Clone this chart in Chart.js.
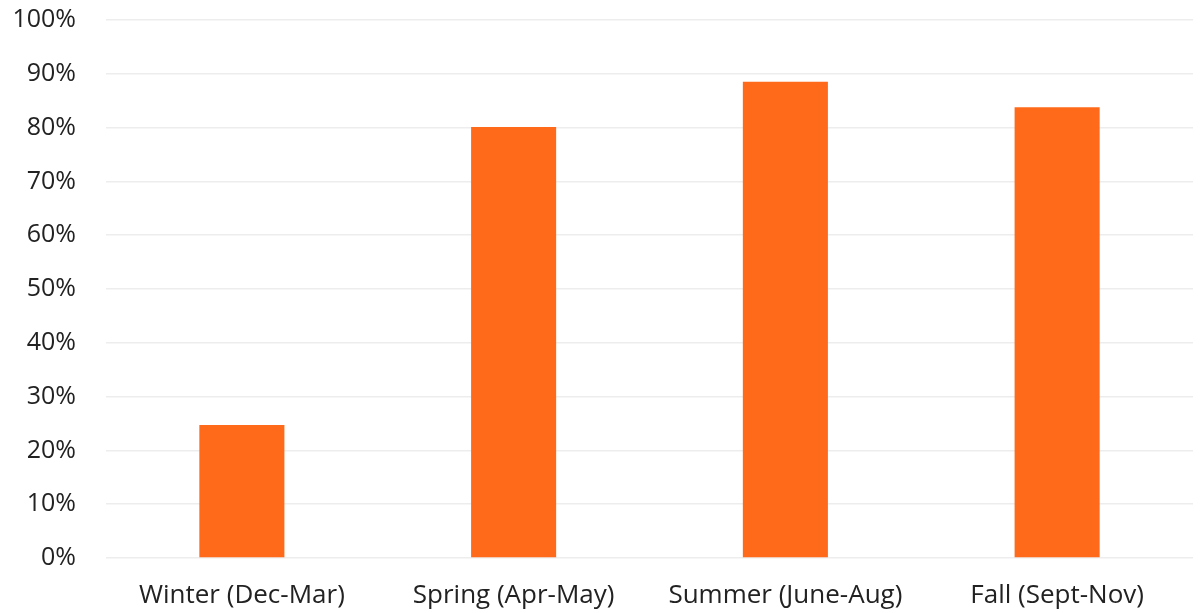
<!DOCTYPE html>
<html>
<head>
<meta charset="utf-8">
<script src="https://cdn.jsdelivr.net/npm/chart.js@4"></script>
<style>
  html, body { margin: 0; padding: 0; background: #fff; }
  #wrap { width: 1200px; height: 613px; }
</style>
</head>
<body>
<div id="wrap"><canvas id="chart"></canvas></div>
<script>
const seasons = ['Winter (Dec-Mar)', 'Spring (Apr-May)', 'Summer (June-Aug)', 'Fall (Sept-Nov)'];
const shares = [24.7, 80.1, 88.5, 83.8];

const ctx = document.getElementById('chart').getContext('2d');

new Chart(ctx, {
  type: 'bar',
  data: {
    labels: seasons,
    datasets: [{
      data: shares,
      backgroundColor: '#ff6a1a',
      borderWidth: 0,
      barPercentage: 0.313,
      categoryPercentage: 1
    }]
  },
  options: {
    responsive: true,
    maintainAspectRatio: false,
    animation: false,
    layout: { padding: { top: 20, right: 7, bottom: 0, left: 0 } },
    plugins: { legend: { display: false }, tooltip: { enabled: false } },
    scales: {
      x: {
        afterFit: scale => { scale.height = 55; scale.paddingLeft = 0; scale.paddingRight = 0; },
        grid: { display: false },
        border: { display: false },
        ticks: { color: '#222', font: { family: 'Open Sans', size: 26 }, padding: 14, maxRotation: 0 }
      },
      y: {
        min: 0,
        max: 100,
        afterFit: scale => { scale.width = 106; scale.paddingTop = 0; scale.paddingBottom = 0; },
        grid: { color: '#ededed', lineWidth: 1.5, drawTicks: false },
        border: { display: false },
        ticks: {
          stepSize: 10,
          padding: 30,
          color: '#222',
          font: { family: 'Open Sans', size: 25 },
          callback: v => v + '%'
        }
      }
    }
  }
});
</script>
</body>
</html>
